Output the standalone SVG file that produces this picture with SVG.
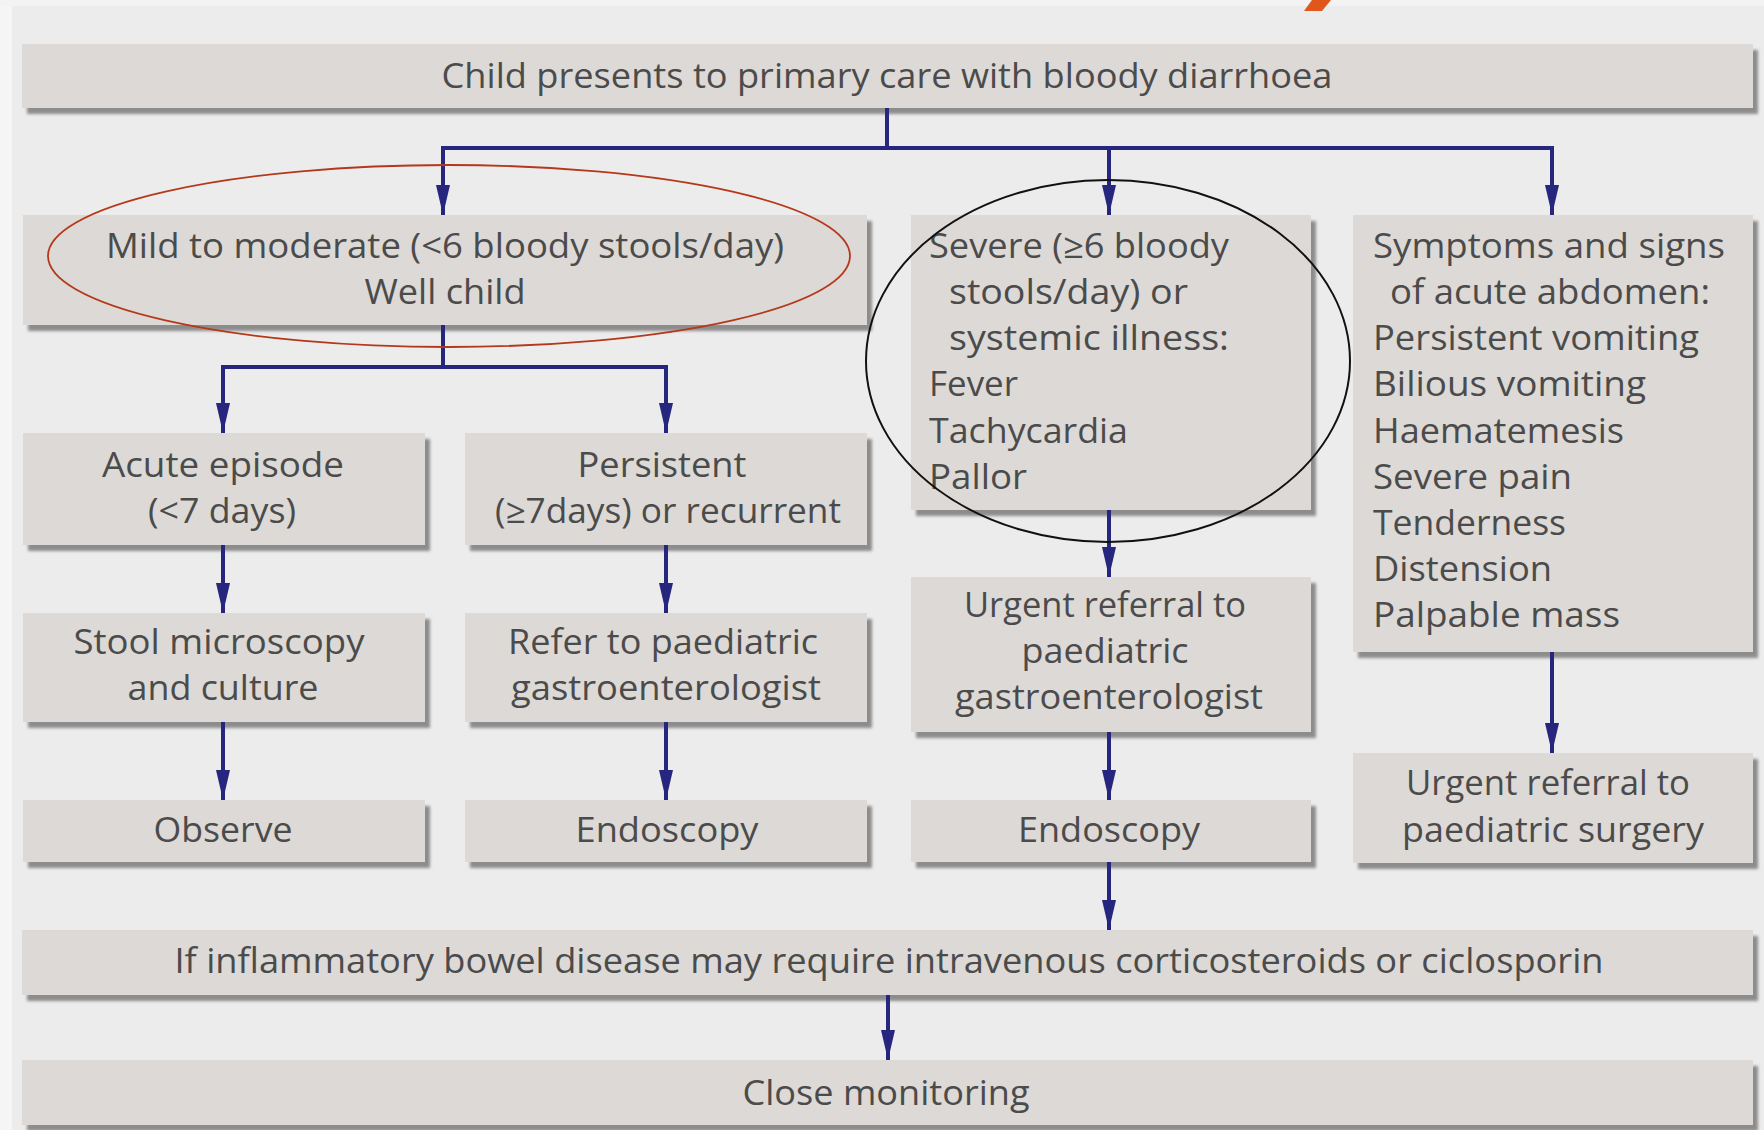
<svg xmlns="http://www.w3.org/2000/svg" width="1764" height="1130" viewBox="0 0 1764 1130">
<defs>
<filter id="sh" x="-5%" y="-20%" width="115%" height="150%">
<feDropShadow dx="5" dy="6" stdDeviation="1.4" flood-color="#8c8c8c" flood-opacity="1"/>
</filter>
<marker id="ah" viewBox="0 0 30 14" refX="30" refY="7" markerWidth="30" markerHeight="14" markerUnits="userSpaceOnUse" orient="auto">
<path d="M0,0 L30,7 L0,14 Z" fill="#26267e"/>
</marker>
</defs>
<style>
.box{fill:#dcd9d6;filter:url(#sh)}
text{font-family:"Open Sans","Noto Sans","Liberation Sans",sans-serif;font-size:34px;fill:#4b4b4b}
.c{text-anchor:middle}
.ln{fill:none;stroke:#26267e;stroke-width:4}
.arr{fill:none;stroke:#26267e;stroke-width:4;marker-end:url(#ah)}
</style>
<rect x="0" y="0" width="1764" height="1130" fill="#ececec"/>
<rect x="0" y="0" width="12" height="1130" fill="#f5f5f5"/>
<rect x="0" y="0" width="1764" height="6" fill="#f3f3f3"/>
<polygon points="1312,0 1331,0 1322,11 1304,11" fill="#e0561b"/>

<g id="n-top"><rect class="box" x="22" y="44" width="1731" height="64"/>
<text class="c" x="887" y="88" textLength="891" lengthAdjust="spacingAndGlyphs">Child presents to primary care with bloody diarrhoea</text></g>

<g id="n-mild"><rect class="box" x="23" y="215" width="844" height="110"/>
<text class="c" x="445" y="258" textLength="678" lengthAdjust="spacingAndGlyphs">Mild to moderate (&lt;6 bloody stools/day)</text>
<text class="c" x="445" y="304" textLength="161" lengthAdjust="spacingAndGlyphs">Well child</text></g>

<g id="n-severe"><rect class="box" x="911" y="215" width="400" height="295"/>
<text x="929" y="258" textLength="300" lengthAdjust="spacingAndGlyphs">Severe (≥6 bloody</text>
<text x="949" y="304" textLength="239" lengthAdjust="spacingAndGlyphs">stools/day) or</text>
<text x="949" y="350" textLength="280" lengthAdjust="spacingAndGlyphs">systemic illness:</text>
<text x="929" y="396" textLength="89" lengthAdjust="spacingAndGlyphs">Fever</text>
<text x="929" y="443" textLength="199" lengthAdjust="spacingAndGlyphs">Tachycardia</text>
<text x="929" y="489" textLength="98" lengthAdjust="spacingAndGlyphs">Pallor</text></g>

<g id="n-abdomen"><rect class="box" x="1353" y="215" width="400" height="437"/>
<text x="1373" y="258" textLength="352" lengthAdjust="spacingAndGlyphs">Symptoms and signs</text>
<text x="1390" y="304" textLength="320" lengthAdjust="spacingAndGlyphs">of acute abdomen:</text>
<text x="1373" y="350" textLength="326" lengthAdjust="spacingAndGlyphs">Persistent vomiting</text>
<text x="1373" y="396" textLength="273" lengthAdjust="spacingAndGlyphs">Bilious vomiting</text>
<text x="1373" y="443" textLength="251" lengthAdjust="spacingAndGlyphs">Haematemesis</text>
<text x="1373" y="489" textLength="199" lengthAdjust="spacingAndGlyphs">Severe pain</text>
<text x="1373" y="535" textLength="193" lengthAdjust="spacingAndGlyphs">Tenderness</text>
<text x="1373" y="581" textLength="179" lengthAdjust="spacingAndGlyphs">Distension</text>
<text x="1373" y="627" textLength="247" lengthAdjust="spacingAndGlyphs">Palpable mass</text></g>

<g id="n-acute"><rect class="box" x="23" y="433" width="402" height="112"/>
<text class="c" x="223" y="477" textLength="242" lengthAdjust="spacingAndGlyphs">Acute episode</text>
<text class="c" x="222" y="523" textLength="148" lengthAdjust="spacingAndGlyphs">(&lt;7 days)</text></g>

<g id="n-persistent"><rect class="box" x="465" y="433" width="402" height="112"/>
<text class="c" x="662" y="477" textLength="169" lengthAdjust="spacingAndGlyphs">Persistent</text>
<text class="c" x="668" y="523" textLength="346" lengthAdjust="spacingAndGlyphs">(≥7days) or recurrent</text></g>

<g id="n-stool"><rect class="box" x="23" y="613" width="402" height="109"/>
<text class="c" x="219" y="654" textLength="291" lengthAdjust="spacingAndGlyphs">Stool microscopy</text>
<text class="c" x="223" y="700" textLength="191" lengthAdjust="spacingAndGlyphs">and culture</text></g>

<g id="n-refer"><rect class="box" x="465" y="613" width="402" height="109"/>
<text class="c" x="663" y="654" textLength="310" lengthAdjust="spacingAndGlyphs">Refer to paediatric</text>
<text class="c" x="666" y="700" textLength="310" lengthAdjust="spacingAndGlyphs">gastroenterologist</text></g>

<g id="n-observe"><rect class="box" x="23" y="800" width="402" height="62"/>
<text class="c" x="223" y="842" textLength="139" lengthAdjust="spacingAndGlyphs">Observe</text></g>

<g id="n-endo1"><rect class="box" x="465" y="800" width="402" height="62"/>
<text class="c" x="667" y="842" textLength="183" lengthAdjust="spacingAndGlyphs">Endoscopy</text></g>

<g id="n-urgent-gi"><rect class="box" x="911" y="577" width="400" height="155"/>
<text class="c" x="1105" y="617" textLength="282" lengthAdjust="spacingAndGlyphs">Urgent referral to</text>
<text class="c" x="1105" y="663" textLength="167" lengthAdjust="spacingAndGlyphs">paediatric</text>
<text class="c" x="1109" y="709" textLength="308" lengthAdjust="spacingAndGlyphs">gastroenterologist</text></g>

<g id="n-endo2"><rect class="box" x="911" y="800" width="400" height="62"/>
<text class="c" x="1109" y="842" textLength="182" lengthAdjust="spacingAndGlyphs">Endoscopy</text></g>

<g id="n-surgery"><rect class="box" x="1353" y="753" width="400" height="110"/>
<text class="c" x="1548" y="795" textLength="284" lengthAdjust="spacingAndGlyphs">Urgent referral to</text>
<text class="c" x="1553" y="842" textLength="302" lengthAdjust="spacingAndGlyphs">paediatric surgery</text></g>

<g id="n-ibd"><rect class="box" x="22" y="930" width="1731" height="65"/>
<text class="c" x="889" y="973" textLength="1429" lengthAdjust="spacingAndGlyphs">If inflammatory bowel disease may require intravenous corticosteroids or ciclosporin</text></g>

<g id="n-close"><rect class="box" x="22" y="1060" width="1731" height="65"/>
<text class="c" x="886" y="1105" textLength="287" lengthAdjust="spacingAndGlyphs">Close monitoring</text></g>

<g id="connectors">
<path class="ln" d="M887,108 V148 M441,148 H1554"/>
<path class="arr" d="M443,148 V215"/>
<path class="arr" d="M1109,148 V215"/>
<path class="arr" d="M1552,148 V215"/>
<path class="ln" d="M443,325 V367 M221,367 H668"/>
<path class="arr" d="M223,367 V433"/>
<path class="arr" d="M666,367 V433"/>
<path class="arr" d="M223,545 V613"/>
<path class="arr" d="M223,722 V800"/>
<path class="arr" d="M666,545 V613"/>
<path class="arr" d="M666,722 V800"/>
<path class="arr" d="M1109,510 V577"/>
<path class="arr" d="M1109,732 V800"/>
<path class="arr" d="M1109,862 V930"/>
<path class="arr" d="M1552,652 V753"/>
<path class="arr" d="M888,995 V1060"/>
</g>

<g id="highlights">
<ellipse cx="449" cy="256" rx="401" ry="91" fill="none" stroke="#b5381a" stroke-width="1.8"/>
<ellipse cx="1108" cy="361" rx="242" ry="181" fill="none" stroke="#111111" stroke-width="2"/>
</g>
</svg>
